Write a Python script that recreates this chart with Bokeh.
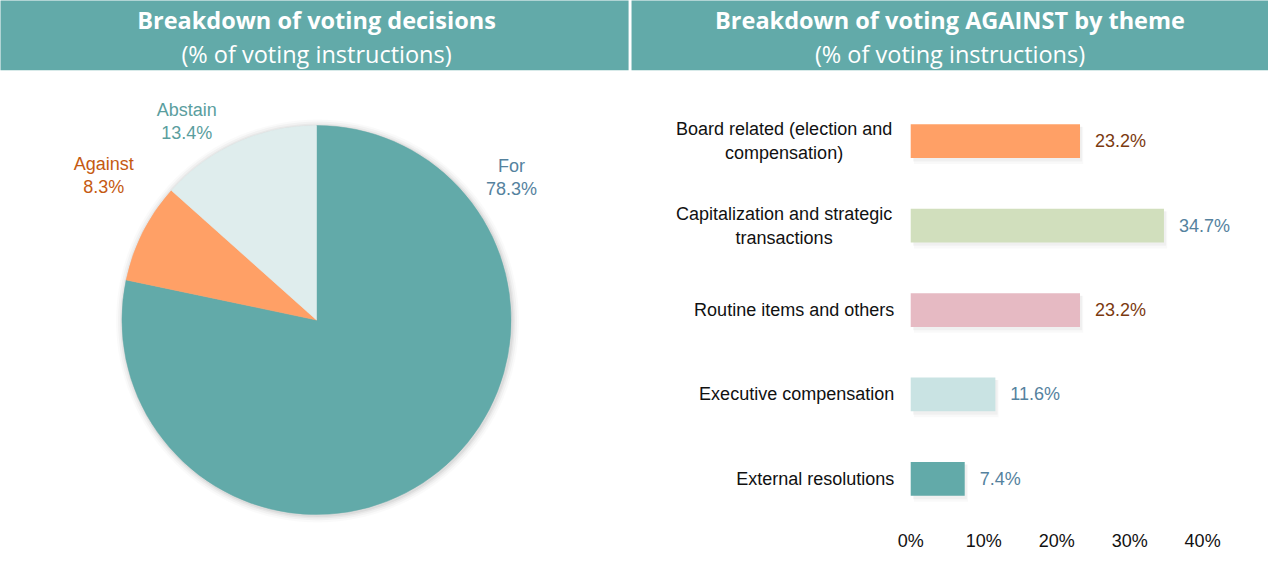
import math
from bokeh.plotting import figure
from bokeh.models import Range1d, LinearAxis, FixedTicker, PrintfTickFormatter, ColumnDataSource
from bokeh.core.properties import value
from bokeh.transform import dodge
from bokeh.embed import file_html
from bokeh.resources import INLINE

# ---------------- data ----------------
left_title = "Breakdown of voting decisions"
right_title = "Breakdown of voting AGAINST by theme"
subtitle = "(% of voting instructions)"

pie_labels = ["For", "Against", "Abstain"]
pie_values = [78.3, 8.3, 13.4]
pie_colors = ["#62AAA9", "#FFA066", "#DFEDED"]
pie_label_colors = ["#55829E", "#C55A11", "#5A9E9E"]

themes = ["Board related (election and\ncompensation)",
          "Capitalization and strategic\ntransactions",
          "Routine items and others",
          "Executive compensation",
          "External resolutions"]
theme_values = [23.2, 34.7, 23.2, 11.6, 7.4]
theme_colors = ["#FFA066", "#D1DFBD", "#E6BAC3", "#C9E3E3", "#62AAA9"]
theme_label_colors = ["#7B3A10", "#55829E", "#7B3A10", "#55829E", "#55829E"]
x_ticks = [0, 10, 20, 30, 40]

# ---------------- layout constants ----------------
W, H = 1268, 553            # figure size in pixels
RW, RH = 1284, 569          # design (reference) coordinate size
B = 26                      # bottom border for the axis
SY = H / RH
FRAME_BOTTOM_REF = (H - B) / SY
TEAL = "#62AAA9"
FONT = value("Liberation Sans")
HFONT = value("Open Sans")

def Y(s):                   # design y (down) -> data y (up)
    return RH - s

ZERO_X, PX_PER = 921.7, 7.39          # bar scale, design px
ROW0, ROW_STEP = 145.3, 87.2          # bar rows, design px

def row_of(s):
    return (s - ROW0) / ROW_STEP

p = figure(width=W, height=H, output_backend="svg", toolbar_location=None,
           x_range=Range1d(0, RW), y_range=Range1d(Y(FRAME_BOTTOM_REF), Y(0)),
           x_axis_type=None, y_axis_type=None,
           min_border_left=0, min_border_right=0, min_border_top=0,
           min_border_bottom=B)
p.outline_line_color = None
p.background_fill_color = "white"
p.border_fill_color = "white"

p.extra_x_ranges = {"pct": Range1d((0 - ZERO_X) / PX_PER, (RW - ZERO_X) / PX_PER)}
p.extra_y_ranges = {"cat": Range1d(row_of(FRAME_BOTTOM_REF), row_of(0))}

# ---------------- headers ----------------
p.quad(left=[-5, 639], right=[636, RW + 5], bottom=[Y(72), Y(72)], top=[Y(-5), Y(-5)],
       fill_color=TEAL, line_color=None)
p.text(x=[320, 961.5], y=[Y(20), Y(20)], text=[left_title, right_title],
       text_font=HFONT, text_font_style="bold", text_font_size="23.5px",
       text_color="white", text_align="center", text_baseline="middle")
p.text(x=[320, 961.5], y=[Y(55), Y(55)], text=[subtitle, subtitle],
       text_font=HFONT, text_font_size="23.5px",
       text_color="white", text_align="center", text_baseline="middle")

# ---------------- pie ----------------
CX, CY, R = 320, Y(330), 197
for k, a in [(7, 0.02), (5, 0.03), (3, 0.04), (1.5, 0.05)]:
    p.circle(x=[CX + 1], y=[CY - 1], radius=[R + k], fill_color="#000000",
             fill_alpha=a, line_color=None)

total = sum(pie_values)
starts, ends, cum = [], [], 0.0
for v in pie_values:
    starts.append(math.pi / 2 - 2 * math.pi * cum / total)
    cum += v
    ends.append(math.pi / 2 - 2 * math.pi * cum / total)
pie_src = ColumnDataSource(dict(start=starts, end=ends, color=pie_colors))
p.wedge(x=CX, y=CY, radius=R, start_angle="start", end_angle="end",
        direction="clock", fill_color="color", line_color="color",
        line_width=0.5, source=pie_src)

pie_label_pos = [(517.5, 182.5), (104.5, 180.5), (188.5, 124.5)]
p.text(x=[q[0] for q in pie_label_pos], y=[Y(q[1]) for q in pie_label_pos],
       text=[f"{n}\n{v:.1f}%" for n, v in zip(pie_labels, pie_values)],
       text_color=pie_label_colors, text_font=FONT, text_font_size="18px",
       text_align="center", text_baseline="middle", text_line_height=1.15)

# ---------------- bars ----------------
idx = list(range(len(themes)))
bar_src = ColumnDataSource(dict(y=idx, v=theme_values, color=theme_colors,
                                lc=theme_label_colors,
                                lab=[f"{v:.1f}%" for v in theme_values]))
# soft drop shadow (offset down/right)
for off_y, off_x, h, a in [(0.05, 0.45, 0.44, 0.025), (0.035, 0.3, 0.41, 0.035)]:
    p.hbar(y=dodge("y", off_y), left=off_x, right=dodge("v", off_x), height=h,
           source=bar_src, fill_color="#000000", fill_alpha=a, line_color=None,
           x_range_name="pct", y_range_name="cat")
p.hbar(y="y", left=0, right="v", height=0.40, source=bar_src,
       fill_color="color", line_color=None,
       x_range_name="pct", y_range_name="cat")
p.text(x="v", y="y", text="lab", source=bar_src, x_offset=15,
       text_color="lc", text_font=FONT, text_font_size="18px",
       text_align="left", text_baseline="middle",
       x_range_name="pct", y_range_name="cat")

one = [i for i, t in enumerate(themes) if "\n" not in t]
two = [i for i, t in enumerate(themes) if "\n" in t]
p.text(x=[905] * len(one), y=one, text=[themes[i] for i in one],
       text_color="#111111", text_font=FONT, text_font_size="18px",
       text_align="right", text_baseline="middle", y_range_name="cat")
p.text(x=[793.5] * len(two), y=two, text=[themes[i] for i in two],
       text_color="#111111", text_font=FONT, text_font_size="18px",
       text_align="center", text_baseline="middle", text_line_height=1.2,
       y_range_name="cat")

ax = LinearAxis(x_range_name="pct", ticker=FixedTicker(ticks=x_ticks),
                formatter=PrintfTickFormatter(format="%d%%"))
ax.axis_line_color = None
ax.major_tick_line_color = None
ax.minor_tick_line_color = None
ax.major_tick_out = 0
ax.major_label_standoff = 5
ax.major_label_text_font = "Liberation Sans"
ax.major_label_text_font_size = "18px"
ax.major_label_text_color = "#111111"
p.add_layout(ax, "below")

open("out.html", "w").write(file_html(p, INLINE))
